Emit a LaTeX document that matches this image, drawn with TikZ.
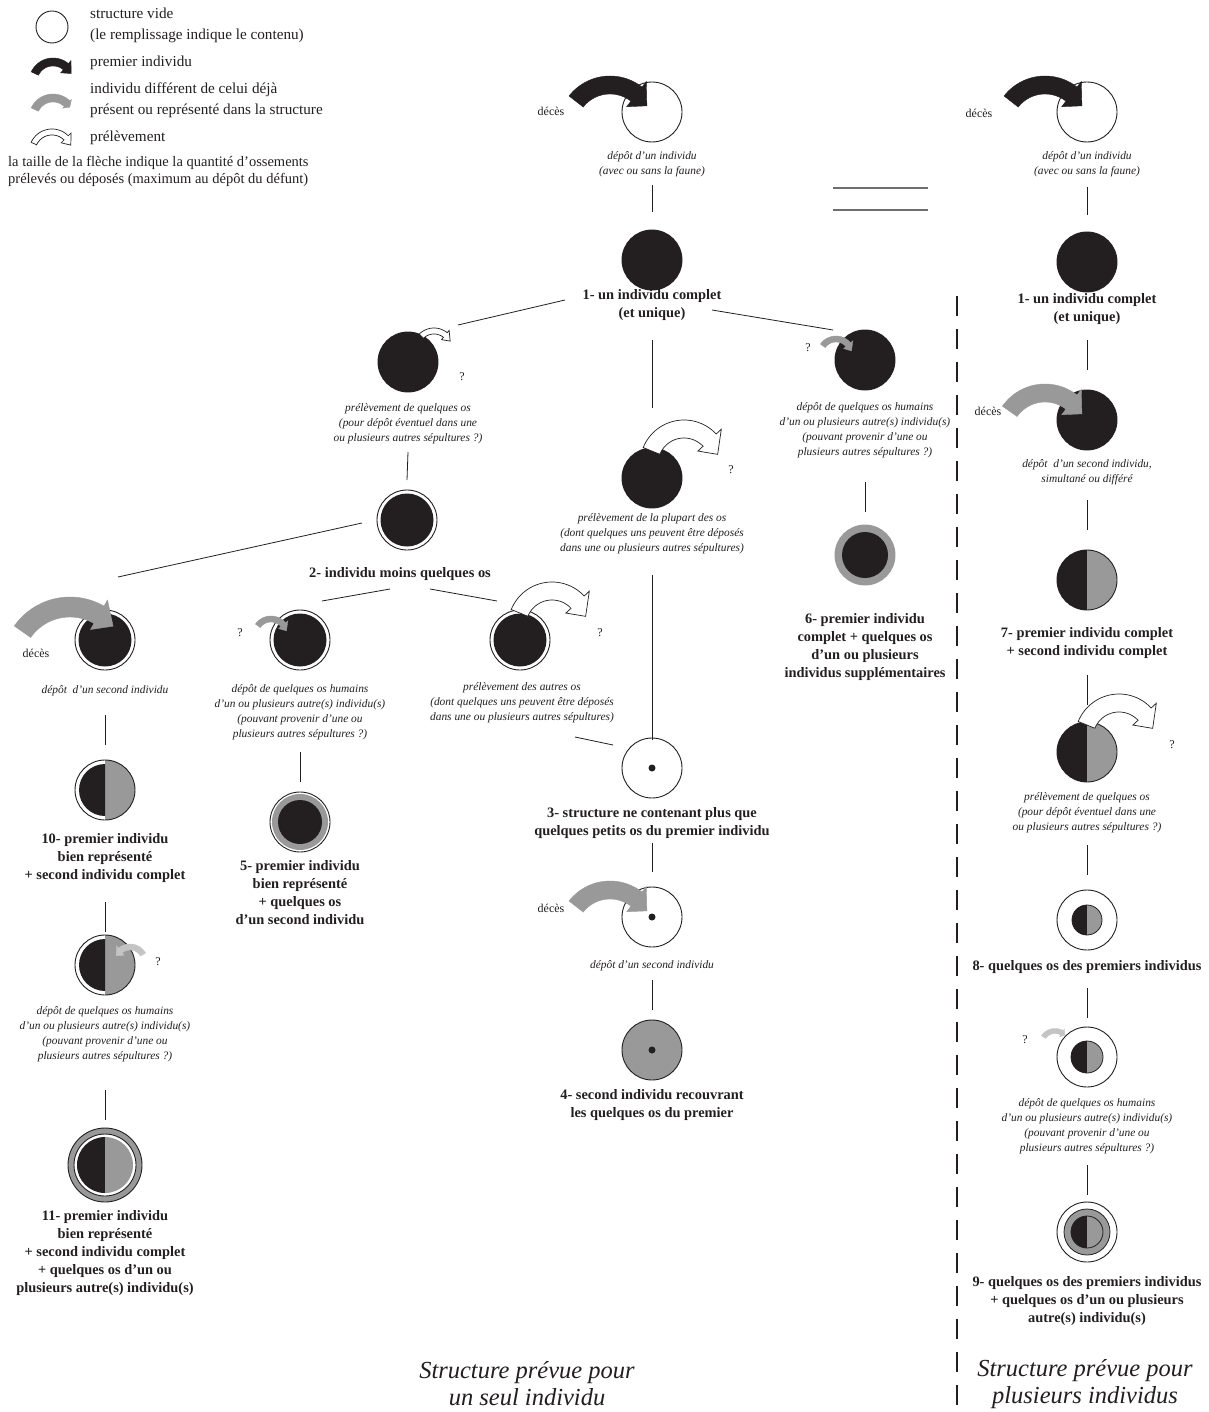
\documentclass[tikz,border=0pt]{standalone}
\usepackage{fontspec}
\setmainfont{Liberation Serif}
\usetikzlibrary{calc}
\definecolor{ink}{HTML}{231F20}
\definecolor{gr}{HTML}{999999}
\definecolor{lgr}{HTML}{C4C4C4}
\definecolor{eqc}{HTML}{6E6E6E}
\newcommand\halves[1]{\fill[ink] (pc) ++(0pt,#1) arc[start angle=90,end angle=270,radius=#1] -- cycle;
 \fill[gr] (pc) ++(0pt,#1) arc[start angle=90,end angle=-90,radius=#1] -- cycle;}
% curved band arrow: cx cy r a1 a2 width headoverhang tipangle style
\newcommand\carr[9]{\filldraw[#9]
 plot[domain=#4:#5,samples=30,variable=\t] ({#1+(#3+#6/2)*cos(\t)},{#2+(#3+#6/2)*sin(\t)})
 -- ({#1+(#3+#6/2+#7)*cos(#5)},{#2+(#3+#6/2+#7)*sin(#5)})
 -- ({#1+#3*cos(#5+#8)},{#2+#3*sin(#5+#8)})
 -- ({#1+(#3-#6/2-#7)*cos(#5)},{#2+(#3-#6/2-#7)*sin(#5)})
 -- plot[domain=#5:#4,samples=30,variable=\t] ({#1+(#3-#6/2)*cos(\t)},{#2+(#3-#6/2)*sin(\t)})
 -- cycle;}
\begin{document}
\begin{tikzpicture}[x=1pt,y=-1pt,
 cb/.style={circle,inner sep=0pt,outer sep=0pt,minimum size=60pt,line width=0.9pt,draw=ink},
 vide/.style={cb,fill=white},
 plein/.style={cb,fill=ink},
 moins/.style={cb,fill=white,path picture={\coordinate (pc) at (path picture bounding box.center);\fill[ink] (pc) circle (26.5pt);}},
 dotc/.style={cb,fill=white,path picture={\coordinate (pc) at (path picture bounding box.center);\fill[ink] (pc) circle (3.5pt);}},
 graydot/.style={cb,fill=gr,path picture={\coordinate (pc) at (path picture bounding box.center);\fill[ink] (pc) circle (3.5pt);}},
 ringfive/.style={cb,fill=white,path picture={\coordinate (pc) at (path picture bounding box.center);\fill[gr] (pc) circle (28pt);\fill[ink] (pc) circle (22pt);}},
 ringsix/.style={cb,draw=gr,fill=gr,path picture={\coordinate (pc) at (path picture bounding box.center);\fill[ink] (pc) circle (23pt);}},
 halfc/.style={cb,fill=white,path picture={\coordinate (pc) at (path picture bounding box.center);\halves{30pt}}},
 tenc/.style={cb,fill=white,path picture={\coordinate (pc) at (path picture bounding box.center);
   \fill[gr] (path picture bounding box.south) rectangle (path picture bounding box.north east);
   \fill[ink] (pc) ++(0pt,26pt) arc[start angle=90,end angle=270,radius=26pt] -- cycle;}},
 elevenc/.style={cb,minimum size=74pt,fill=gr,path picture={\coordinate (pc) at (path picture bounding box.center);
   \filldraw[fill=white,draw=ink,line width=0.9pt] (pc) circle (31pt);\halves{28pt}}},
 eightc/.style={cb,fill=white,path picture={\coordinate (pc) at (path picture bounding box.center);\halves{15pt}\draw[ink,line width=0.8pt] (pc) circle (15pt);}},
 quatc/.style={cb,fill=white,path picture={\coordinate (pc) at (path picture bounding box.center);\halves{16pt}\draw[ink,line width=0.8pt] (pc) circle (16pt);}},
 ninec/.style={cb,fill=white,path picture={\coordinate (pc) at (path picture bounding box.center);
   \filldraw[fill=gr,draw=ink,line width=0.8pt] (pc) circle (23pt);\halves{16pt}\draw[ink,line width=0.8pt] (pc) circle (16pt);}},
 blackarr/.style={fill=ink,draw=ink,line width=0.4pt},
 grayarr/.style={fill=gr,draw=gr,line width=0.4pt},
 lgrarr/.style={fill=lgr,draw=lgr,line width=0.4pt},
 whitearr/.style={fill=white,draw=ink,line width=0.7pt},
 it/.style={font=\fontsize{11.4}{15}\selectfont\itshape,align=center,inner sep=0pt,text=ink},
 bd/.style={font=\fontsize{14.4}{18}\selectfont\bfseries,align=center,inner sep=0pt,text=ink},
 lg/.style={font=\fontsize{15.2}{21}\selectfont,align=left,anchor=west,inner sep=0pt,text=ink},
 sm/.style={font=\fontsize{12}{14}\selectfont,inner sep=0pt,text=ink},
 big/.style={font=\fontsize{24.5}{27}\selectfont\itshape,align=center,inner sep=0pt,text=ink},
 conn/.style={draw=ink,line width=0.8pt}]
\useasboundingbox[fill=white] (0,0) rectangle (1208,1412);

% ---------- legend
\node[vide,minimum size=32pt] (lg1) at (52,27) {};
\carr{53}{82}{20}{205}{310}{8}{4}{25}{blackarr}
\carr{53}{118}{20}{205}{315}{8}{2}{12}{grayarr}
\carr{52}{152}{20}{205}{315}{6}{4}{25}{whitearr}
\node[lg] (lt1) at (90,25) {structure vide\\(le remplissage indique le contenu)};
\node[lg] (lt2) at (90,63) {premier individu};
\node[lg] (lt3) at (90,100) {individu différent de celui déjà\\présent ou représenté dans la structure};
\node[lg] (lt4) at (90,138) {prélèvement};
\node[lg,font=\fontsize{14.5}{17}\selectfont] (lt5) at (8,171) {la taille de la flèche indique la quantité d'ossements\\prélevés ou déposés (maximum au dépôt du défunt)};

% ---------- centre column
\node[vide] (c0) at (652,112) {};
\carr{610}{128}{43}{218}{308}{18}{7}{21}{blackarr}
\node[sm] (dc0) at (551,111) {décès};
\node[it] (t0) at (652,164) {dépôt d'un individu\\(avec ou sans la faune)};
\node[plein] (c1) at (652,260) {};
\node[bd] (t1) at (652,305) {1- un individu complet\\(et unique)};
\draw[conn] ($(c0)+(0,73)$) -- ($(c1)+(0,-48)$);

\node[plein] (cA) at (652,478) {};
\carr{684}{464}{35}{202}{317}{18}{7}{27}{whitearr}
\node[sm] (qA) at (731,470) {?};
\node[it] (tA) at (652,534) {prélèvement de la plupart des os\\(dont quelques uns peuvent être déposés\\dans une ou plusieurs autres sépultures)};
\draw[conn] ($(t1)+(0,35)$) -- ($(cA)+(0,-70)$);

\node[dotc] (c3) at (652,768) {};
\node[bd] (t3) at (652,823) {3- structure ne contenant plus que\\quelques petits os du premier individu};
\draw[conn] ($(tA)+(0,41)$) -- ($(c3)+(0,-28)$);

\node[dotc] (cB) at (652,917) {};
\carr{610}{933}{43}{218}{308}{18}{7}{21}{grayarr}
\node[sm] (dcB) at (551,908) {décès};
\node[it] (tB) at (652,966) {dépôt d'un second individu};
\draw[conn] ($(t3)+(0,20)$) -- ($(cB)+(0,-45)$);

\node[graydot] (c4) at (652,1050) {};
\node[bd] (t4) at (652,1105) {4- second individu recouvrant\\les quelques os du premier};
\draw[conn] ($(tB)+(0,14)$) -- ($(c4)+(0,-40)$);

% ---------- left branch
\node[plein] (cL) at (408,362) {};
\carr{434}{349}{18}{225}{309}{6}{3}{25}{whitearr}
\node[sm] (qL) at (462,377) {?};
\node[it] (tL) at (408,424) {prélèvement de quelques os\\(pour dépôt éventuel dans une\\ou plusieurs autres sépultures ?)};
\draw[conn] ($(t1)+(-87,-5)$) -- ($(cL)+(50,-37)$);

\node[moins] (c2) at (407,520) {};
\node[bd] (t2) at (400,574) {2- individu moins quelques os};
\draw[conn] ($(tL)+(0,28)$) -- ($(c2)+(0,-40)$);

% far left
\node[moins] (cF) at (105,640) {};
\carr{70}{665}{58}{215}{300}{20}{7}{18}{grayarr}
\node[sm] (dcF) at (36,653) {décès};
\node[it] (tF) at (105,691) {dépôt\ \ d'un second individu};
\draw[conn] ($(c2)+(-45,3)$) -- ($(cF)+(13,-63)$);

\node[tenc] (c10) at (105,790) {};
\node[bd] (t10) at (105,858) {10- premier individu\\bien représenté\\+ second individu complet};
\draw[conn] ($(tF)+(0,24)$) -- ($(c10)+(0,-45)$);

\node[tenc] (cG) at (105,965) {};
\carr{130}{962}{15}{330}{230}{6}{3}{-25}{lgrarr}
\node[sm] (qG) at (158,962) {?};
\node[it] (tG) at (105,1034) {dépôt de quelques os humains\\d'un ou plusieurs autre(s) individu(s)\\(pouvant provenir d'une ou\\plusieurs autres sépultures ?)};
\draw[conn] ($(t10)+(0,44)$) -- ($(cG)+(0,-33)$);

\node[elevenc] (c11) at (105,1165) {};
\node[bd] (t11) at (105,1253) {11- premier individu\\bien représenté\\+ second individu complet\\+ quelques os d'un ou\\plusieurs autre(s) individu(s)};
\draw[conn] ($(tG)+(0,56)$) -- ($(c11)+(0,-45)$);

% column 5
\node[moins] (c5a) at (300,640) {};
\carr{271}{635}{16}{215}{320}{6}{3}{25}{grayarr}
\node[sm] (q5) at (240,633) {?};
\node[it] (t5a) at (300,712) {dépôt de quelques os humains\\d'un ou plusieurs autre(s) individu(s)\\(pouvant provenir d'une ou\\plusieurs autres sépultures ?)};
\draw[conn] ($(t2)+(-78,27)$) -- ($(t2)+(-10,15)$);
\node[ringfive] (c5) at (300,822) {};
\node[bd] (t5) at (300,893) {5- premier individu\\bien représenté\\+ quelques os\\d'un second individu};
\draw[conn] ($(t5a)+(0,40)$) -- ($(c5)+(0,-40)$);

% column prelevement des autres os
\node[moins] (cP) at (520,640) {};
\carr{552}{626}{35}{202}{317}{18}{7}{27}{whitearr}
\node[sm] (qP) at (600,633) {?};
\node[it] (tP) at (522,703) {prélèvement des autres os\\(dont quelques uns peuvent être déposés\\dans une ou plusieurs autres sépultures)};
\draw[conn] ($(t2)+(30,15)$) -- ($(t2)+(97,27)$);
\draw[conn] ($(tP)+(53,34)$) -- ($(c3)+(-39,-23)$);

% ---------- right-centre branch
\node[plein] (cR) at (865,360) {};
\carr{836}{355}{16}{215}{320}{6}{3}{25}{grayarr}
\node[sm] (qR) at (808,348) {?};
\node[it] (tR) at (865,430) {dépôt de quelques os humains\\d'un ou plusieurs autre(s) individu(s)\\(pouvant provenir d'une ou\\plusieurs autres sépultures ?)};
\draw[conn] ($(t1)+(60,5)$) -- ($(cR)+(-32,-30)$);
\node[ringsix] (c6) at (865,555) {};
\node[bd] (t6) at (865,647) {6- premier individu\\complet + quelques os\\d'un ou plusieurs\\individus supplémentaires};
\draw[conn] ($(tR)+(0,52)$) -- ($(c6)+(0,-43)$);

% equals sign
\coordinate (e1) at (833,188); \coordinate (e2) at (928,188);
\coordinate (e3) at (833,210); \coordinate (e4) at (928,210);
\draw[eqc,line width=1.3pt] (e1) -- (e2);
\draw[eqc,line width=1.3pt] (e3) -- (e4);

% dashed separator
\coordinate (dtop) at (957,296); \coordinate (dbot) at (957,1412);
\draw[ink,line width=1.5pt,dash pattern=on 20pt off 13pt] (dtop) -- (dbot);

% ---------- right column
\node[vide] (d0) at (1087,112) {};
\carr{1045}{128}{43}{218}{308}{18}{7}{21}{blackarr}
\node[sm] (dd0) at (979,113) {décès};
\node[it] (u0) at (1087,164) {dépôt d'un individu\\(avec ou sans la faune)};
\node[plein] (d1) at (1087,262) {};
\node[bd] (u1) at (1087,309) {1- un individu complet\\(et unique)};
\draw[conn] ($(d0)+(0,75)$) -- ($(d1)+(0,-47)$);

\node[plein] (d2) at (1087,420) {};
\carr{1045}{436}{43}{215}{308}{18}{7}{21}{grayarr}
\node[sm] (dd2) at (988,411) {décès};
\node[it] (u2) at (1087,472) {dépôt\ \ d'un second individu,\\simultané ou différé};
\draw[conn] ($(u1)+(0,31)$) -- ($(d2)+(0,-50)$);

\node[halfc] (d7) at (1087,580) {};
\node[bd] (u7) at (1087,643) {7- premier individu complet\\+ second individu complet};
\draw[conn] ($(u2)+(0,28)$) -- ($(d7)+(0,-50)$);

\node[halfc] (d3) at (1087,752) {};
\carr{1119}{738}{35}{202}{317}{18}{7}{27}{whitearr}
\node[sm] (qd3) at (1172,745) {?};
\node[it] (u3) at (1087,813) {prélèvement de quelques os\\(pour dépôt éventuel dans une\\ou plusieurs autres sépultures ?)};
\draw[conn] ($(u7)+(0,32)$) -- ($(d3)+(0,-47)$);

\node[eightc] (d8) at (1087,920) {};
\node[bd] (u8) at (1087,967) {8- quelques os des premiers individus};
\draw[conn] ($(u3)+(0,32)$) -- ($(d8)+(0,-45)$);

\node[quatc] (d4) at (1087,1057) {};
\carr{1055}{1045}{14}{215}{300}{5}{2}{15}{lgrarr}
\node[sm] (qd4) at (1025,1040) {?};
\node[it] (u4) at (1087,1126) {dépôt de quelques os humains\\d'un ou plusieurs autre(s) individu(s)\\(pouvant provenir d'une ou\\plusieurs autres sépultures ?)};
\draw[conn] ($(u8)+(0,21)$) -- ($(d4)+(0,-39)$);

\node[ninec] (d9) at (1087,1232) {};
\node[bd] (u9) at (1087,1301) {9- quelques os des premiers individus\\+ quelques os d'un ou plusieurs\\autre(s) individu(s)};
\draw[conn] ($(u4)+(0,39)$) -- ($(d9)+(0,-37)$);

% ---------- bottom titles
\node[big] (b1) at (527,1384) {Structure prévue pour\\un seul individu};
\node[big] (b2) at (1085,1384) {Structure prévue pour\\plusieurs individus};
\end{tikzpicture}
\end{document}
